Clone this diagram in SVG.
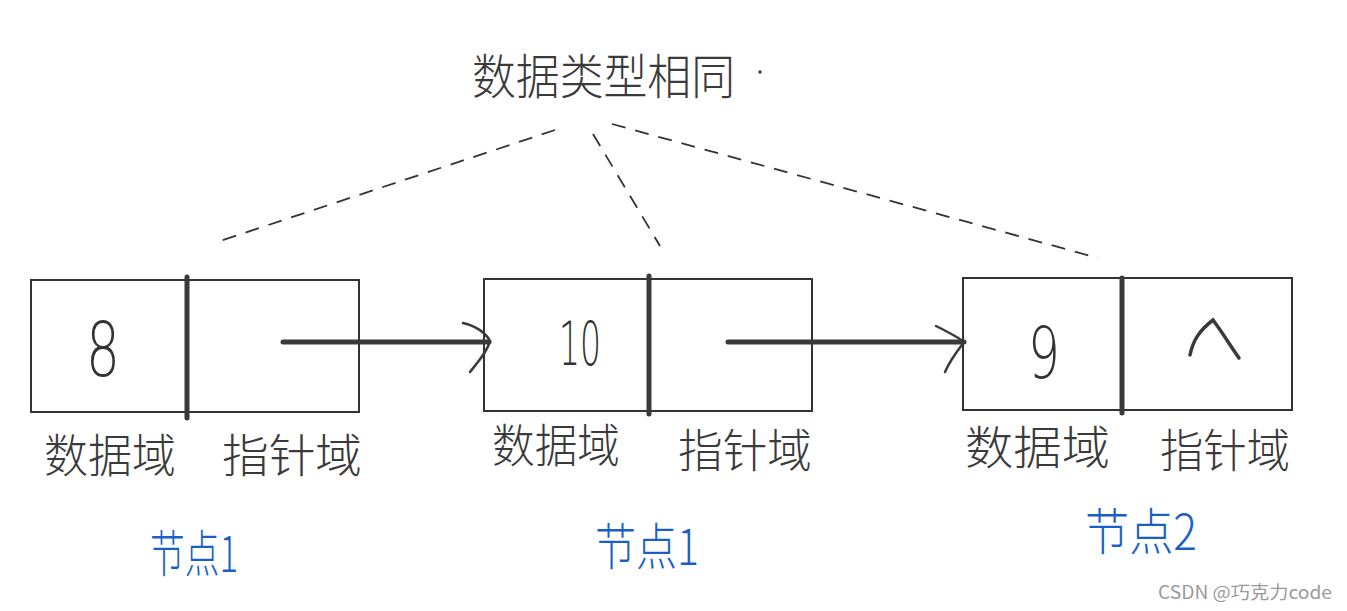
<svg xmlns="http://www.w3.org/2000/svg" width="1347" height="611" viewBox="0 0 1347 611">
<style>
.box{fill:none;stroke:#333;stroke-width:2}
.div{stroke:#3a3a3a;stroke-width:5;stroke-linecap:round}
.hw{font-family:"Noto Sans CJK SC","Noto Sans",sans-serif;fill:#3a3a3a;font-weight:300}
.num{font-family:"DejaVu Sans","Noto Sans",sans-serif;fill:#333;font-weight:300}
.blue{font-family:"Noto Sans CJK SC","Noto Sans",sans-serif;fill:#1a5fc8;font-weight:300}
.dash{fill:none;stroke:#333;stroke-width:1.8;stroke-dasharray:14 10}
.arr{fill:none;stroke:#3a3a3a;stroke-width:5;stroke-linecap:round}
.head{fill:none;stroke:#3a3a3a;stroke-width:2.5;stroke-linecap:round}
</style>
<rect width="1347" height="611" fill="#fff"/>
<g id="title">
<text class="hw" x="472" y="94" font-size="48" textLength="263" lengthAdjust="spacingAndGlyphs">数据类型相同</text>
<circle cx="760" cy="72" r="1.8" fill="#444"/>
</g>
<g id="node1">
<rect class="box" x="31" y="280" width="328" height="132"/>
<line class="div" x1="187" y1="277" x2="187" y2="418"/>
<text class="num" x="103" y="376" font-size="74" text-anchor="middle" textLength="34" lengthAdjust="spacingAndGlyphs">8</text>
<text class="hw" x="44" y="472" font-size="46" textLength="132" lengthAdjust="spacingAndGlyphs">数据域</text>
<text class="hw" x="222" y="472" font-size="46" textLength="140" lengthAdjust="spacingAndGlyphs">指针域</text>
<text class="blue" x="150" y="572" font-size="50" textLength="88" lengthAdjust="spacingAndGlyphs">节点1</text>
</g>
<g id="node2">
<rect class="box" x="484" y="279" width="328" height="132"/>
<line class="div" x1="649" y1="276" x2="649" y2="414"/>
<text class="num" x="580" y="365" font-size="60" text-anchor="middle" textLength="42" lengthAdjust="spacingAndGlyphs">10</text>
<text class="hw" x="492" y="462" font-size="46" textLength="128" lengthAdjust="spacingAndGlyphs">数据域</text>
<text class="hw" x="678" y="467" font-size="46" textLength="134" lengthAdjust="spacingAndGlyphs">指针域</text>
<text class="blue" x="595" y="565" font-size="50" textLength="104" lengthAdjust="spacingAndGlyphs">节点1</text>
</g>
<g id="node3">
<rect class="box" x="963" y="278" width="329" height="132"/>
<line class="div" x1="1122" y1="278" x2="1122" y2="413"/>
<text class="num" x="1044" y="378" font-size="72" text-anchor="middle" textLength="32" lengthAdjust="spacingAndGlyphs">9</text>
<path class="arr" d="M1190,355 C1193,340 1200,330 1213,320 C1222,332 1230,345 1239,358" style="stroke-width:3.5"/>
<text class="hw" x="965" y="464" font-size="46" textLength="145" lengthAdjust="spacingAndGlyphs">数据域</text>
<text class="hw" x="1160" y="467" font-size="46" textLength="130" lengthAdjust="spacingAndGlyphs">指针域</text>
<text class="blue" x="1085" y="550" font-size="50" textLength="112" lengthAdjust="spacingAndGlyphs">节点2</text>
</g>
<g id="connectors">
<line class="arr" x1="283" y1="342" x2="489" y2="342"/>
<path class="head" d="M463,323 C476,326 486,333 490,341 C487,352 478,362 470,372"/>
<line class="arr" x1="728" y1="342" x2="964" y2="342"/>
<path class="head" d="M936,326 C948,332 958,337 964,342 C958,350 950,360 945,372"/>
<line class="dash" x1="555" y1="130" x2="220" y2="241"/>
<line class="dash" x1="593" y1="134" x2="660" y2="246"/>
<line class="dash" x1="612" y1="124" x2="1098" y2="258"/>
</g>
<text x="1158" y="599" font-family="'Noto Sans CJK SC','Noto Sans',sans-serif" font-size="18" fill="#9a9a9a" textLength="174" lengthAdjust="spacingAndGlyphs">CSDN @巧克力code</text>
</svg>
